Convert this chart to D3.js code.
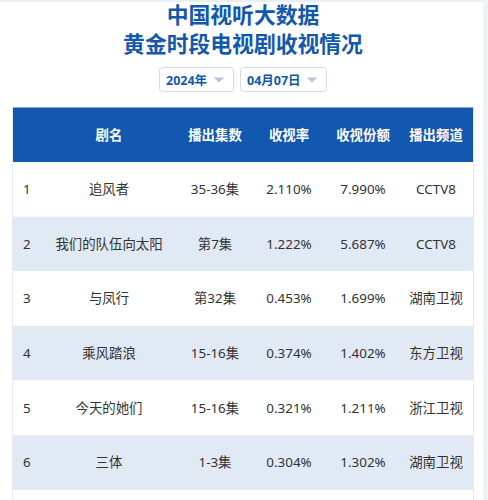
<!DOCTYPE html>
<html>
<head>
<meta charset="utf-8">
<script src="https://cdn.jsdelivr.net/npm/d3@7"></script>
<style>
  html, body { margin: 0; padding: 0; background: #fff; overflow: hidden; }
  text { font-family: "Noto Sans", "Noto Sans CJK SC", sans-serif; }
</style>
</head>
<body>
<svg id="chart" width="488" height="500"></svg>
<script>
const titleLines = ["中国视听大数据", "黄金时段电视剧收视情况"]
const filters = ["2024年", "04月07日"]
const headers = ["", "剧名", "播出集数", "收视率", "收视份额", "播出频道"]
const ranks = ["1", "2", "3", "4", "5", "6"]
const names = ["追风者", "我们的队伍向太阳", "与凤行", "乘风踏浪", "今天的她们", "三体"]
const episodes = ["35-36集", "第7集", "第32集", "15-16集", "15-16集", "1-3集"]
const ratings = ["2.110%", "1.222%", "0.453%", "0.374%", "0.321%", "0.304%"]
const shares = ["7.990%", "5.687%", "1.699%", "1.402%", "1.211%", "1.302%"]
const channels = ["CCTV8", "CCTV8", "湖南卫视", "东方卫视", "浙江卫视", "湖南卫视"]

const blue = "#1358b0"
const svg = d3.select("#chart")

// page edges
svg.append("rect").attr("width", 488).attr("height", 2).attr("fill", "#e9eff8")
svg.append("rect").attr("x", 473).attr("y", 107).attr("width", 1).attr("height", 393).attr("fill", "#e6ebf3")
svg.append("rect").attr("x", 12).attr("y", 107).attr("width", 1).attr("height", 393).attr("fill", "#e6ebf3")
svg.append("rect").attr("x", 483).attr("y", 0).attr("width", 5).attr("height", 500).attr("fill", "#eef2f9")

svg.selectAll(".title")
  .data(titleLines)
  .enter()
  .append("text")
  .attr("class", "title")
  .attr("x", 243)
  .attr("y", (d, i) => 23 + i * 29)
  .attr("text-anchor", "middle")
  .attr("font-size", 21.8)
  .attr("font-weight", 700)
  .attr("fill", blue)
  .text(d => d)

// the two date pickers
const filterX = d3.scaleOrdinal().domain(filters).range([159.5, 240.5])
const filterW = d3.scaleOrdinal().domain(filters).range([74, 86])
const filter = svg.selectAll(".filter")
  .data(filters)
  .enter()
  .append("g")
  .attr("transform", d => `translate(${filterX(d)},67.5)`)
filter.append("rect")
  .attr("width", d => filterW(d))
  .attr("height", 24)
  .attr("rx", 3)
  .attr("fill", "#fff")
  .attr("stroke", "#cfdcf0")
filter.append("text")
  .attr("x", 6.5)
  .attr("y", 17)
  .attr("font-size", 12.5)
  .attr("font-weight", 700)
  .attr("fill", blue)
  .text(d => d)
filter.append("path")
  .attr("transform", d => `translate(${filterW(d) - 20},10)`)
  .attr("d", "M0,0H11L5.5,5Z")
  .attr("fill", "#b4c6e2")

// table
const colCenter = d3.scaleOrdinal().domain(d3.range(6)).range([23, 109, 215, 289, 363, 436])
const rowY = d3.scaleBand().domain(ranks.concat("7")).range([162, 544.5])
const tableX = 13
const tableW = 460

svg.append("rect")
  .attr("x", tableX)
  .attr("y", 107.5)
  .attr("width", tableW)
  .attr("height", 54.5)
  .attr("fill", blue)
svg.selectAll(".head")
  .data(headers)
  .enter()
  .append("text")
  .attr("x", (d, i) => colCenter(i))
  .attr("y", 135)
  .attr("dy", "0.36em")
  .attr("text-anchor", "middle")
  .attr("font-size", 13.4)
  .attr("font-weight", 700)
  .attr("fill", "#fff")
  .text(d => d)

const rows = ranks.map((r, i) => [r, names[i], episodes[i], ratings[i], shares[i], channels[i]])
const row = svg.selectAll(".row")
  .data(rows)
  .enter()
  .append("g")
  .attr("transform", d => `translate(0,${rowY(d[0])})`)
row.append("rect")
  .attr("x", tableX)
  .attr("width", tableW)
  .attr("height", rowY.bandwidth())
  .attr("fill", (d, i) => i % 2 ? "#e1e9f4" : "#fff")
row.selectAll("text")
  .data(d => d)
  .enter()
  .append("text")
  .attr("x", (d, i) => colCenter(i))
  .attr("y", rowY.bandwidth() / 2)
  .attr("dy", "0.36em")
  .attr("text-anchor", (d, i) => i == 0 ? "start" : "middle")
  .attr("font-size", 13.4)
  .attr("fill", "#333")
  .text(d => d)
</script>
</body>
</html>
